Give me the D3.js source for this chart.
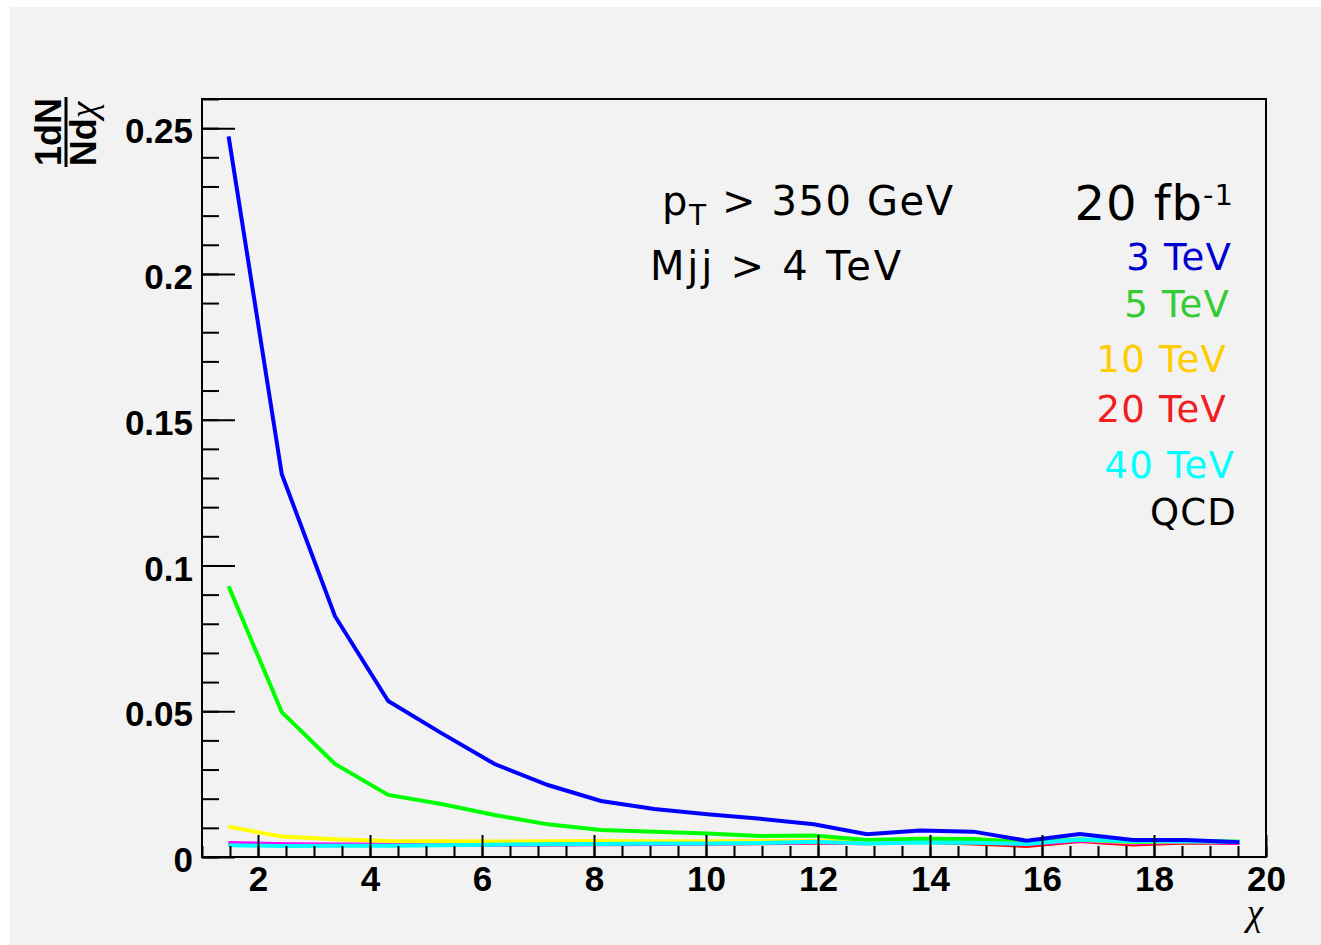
<!DOCTYPE html>
<html>
<head>
<meta charset="utf-8">
<script src="https://cdn.jsdelivr.net/npm/d3@7"></script>
<style>
  body { margin: 0; background: #fff; }
  svg text { white-space: pre; }
</style>
</head>
<body>
<svg id="chart"></svg>
<script>
// chi bin centres: 20 bins of width 0.95 between 1 and 20
const chiBins = [1.475, 2.425, 3.375, 4.325, 5.275, 6.225, 7.175, 8.125, 9.075, 10.025,
                 10.975, 11.925, 12.875, 13.825, 14.775, 15.725, 16.675, 17.625, 18.575, 19.525];

// 1/N dN/dchi per bin
const lambda3 = [0.2472, 0.1313, 0.0826, 0.0535, 0.0425, 0.0319, 0.0247, 0.0192, 0.0165, 0.0147,
                 0.0131, 0.0112, 0.0078, 0.0091, 0.0087, 0.0056, 0.0079, 0.0058, 0.0058, 0.0051];
const lambda5 = [0.0929, 0.0497, 0.0319, 0.0213, 0.0182, 0.0144, 0.0112, 0.0093, 0.0087, 0.0081,
                 0.0072, 0.0074, 0.0058, 0.0063, 0.0062, 0.0050, 0.0060, 0.0052, 0.0055, 0.0052];
const lambda10 = [0.0104, 0.0070, 0.0061, 0.0055, 0.0054, 0.0053, 0.0054, 0.0055, 0.0054, 0.0054,
                  0.0055, 0.0056, 0.0055, 0.0061, 0.0062, 0.0050, 0.0059, 0.0051, 0.0055, 0.0052];
const lambda20 = [0.0045, 0.0042, 0.0040, 0.0041, 0.0042, 0.0043, 0.0044, 0.0045, 0.0046, 0.0046,
                  0.0047, 0.0050, 0.0047, 0.0052, 0.0046, 0.0038, 0.0055, 0.0043, 0.0050, 0.0048];
const lambda40 = [0.0040, 0.0038, 0.0039, 0.0039, 0.0040, 0.0042, 0.0044, 0.0045, 0.0046, 0.0046,
                  0.0048, 0.0052, 0.0046, 0.0050, 0.0049, 0.0045, 0.0060, 0.0055, 0.0054, 0.0052];
const qcd = [0.0048, 0.0044, 0.0043, 0.0043, 0.0042, 0.0042, 0.0043, 0.0044, 0.0045, 0.0046,
             0.0048, 0.0051, 0.0050, 0.0055, 0.0052, 0.0044, 0.0057, 0.0048, 0.0052, 0.0049];

const legendLabels = ['3 TeV', '5 TeV', '10 TeV', '20 TeV', '40 TeV', 'QCD'];

const yTickValues = [0, 0.05, 0.1, 0.15, 0.2, 0.25];
const yTickLabels = ['0', '0.05', '0.1', '0.15', '0.2', '0.25'];
const xTickValues = [2, 4, 6, 8, 10, 12, 14, 16, 18, 20];

// Canvas and frame
const W = 1321, H = 945;
const frame = { left: 202, right: 1266, top: 99, bottom: 857 };

const svg = d3.select('#chart')
  .attr('width', W)
  .attr('height', H);

svg.append('rect')
  .attr('x', 10).attr('y', 7)
  .attr('width', W - 10).attr('height', H - 7)
  .attr('fill', '#f2f2f2');

// Scales
const xScale = d3.scaleLinear().domain([1, 20]).range([frame.left, frame.right]);
const yScale = d3.scaleLinear().domain([0, 0.26]).range([frame.bottom, frame.top]);

// Curves, drawn bottom-up so the 3 TeV one ends on top
const series = [
  { values: lambda20, color: '#ff0000' },
  { values: qcd, color: '#ff00ff' },
  { values: lambda10, color: '#ffff00' },
  { values: lambda5, color: '#00ff00' },
  { values: lambda40, color: '#00ffff' },
  { values: lambda3, color: '#0000ff' }
];

const line = d3.line()
  .x((d, i) => xScale(chiBins[i]))
  .y(d => yScale(d));

svg.append('g')
  .selectAll('path')
  .data(series)
  .enter()
  .append('path')
  .attr('d', d => line(d.values))
  .attr('fill', 'none')
  .attr('stroke', d => d.color)
  .attr('stroke-width', 4)
  .attr('stroke-linejoin', 'miter');

// Axes: ticks point into the frame, minor ticks drawn as a separate pass
const tickFont = '"Liberation Sans", Arial, sans-serif';

const yMinor = d3.range(0, 0.2601, 0.01);
svg.append('g')
  .attr('transform', 'translate(' + frame.left + ',0)')
  .call(d3.axisLeft(yScale).tickValues(yMinor).tickSize(-17).tickFormat(''));

svg.append('g')
  .attr('class', 'y-axis')
  .attr('transform', 'translate(' + frame.left + ',0)')
  .call(d3.axisLeft(yScale)
    .tickValues(yTickValues)
    .tickSize(-33)
    .tickPadding(9)
    .tickFormat((d, i) => yTickLabels[i]));

const xMinor = d3.range(1, 20.01, 0.5);
svg.append('g')
  .attr('transform', 'translate(0,' + frame.bottom + ')')
  .call(d3.axisBottom(xScale).tickValues(xMinor).tickSize(-11).tickFormat(''));

svg.append('g')
  .attr('class', 'x-axis')
  .attr('transform', 'translate(0,' + frame.bottom + ')')
  .call(d3.axisBottom(xScale)
    .tickValues(xTickValues)
    .tickSize(-22)
    .tickPadding(9)
    .tickFormat(d3.format('d')));

svg.selectAll('.domain').remove();
svg.selectAll('.tick line').attr('stroke', '#000').attr('stroke-width', 2);
svg.selectAll('.tick text')
  .attr('fill', '#000')
  .style('font-family', tickFont)
  .style('font-weight', 'bold')
  .style('font-size', '35px');
svg.selectAll('.y-axis .tick text').attr('dy', '0.42em');

// Frame
svg.append('rect')
  .attr('x', frame.left).attr('y', frame.top)
  .attr('width', frame.right - frame.left)
  .attr('height', frame.bottom - frame.top)
  .attr('fill', 'none')
  .attr('stroke', '#000')
  .attr('stroke-width', 2);

// Axis titles
svg.append('text')
  .attr('x', 1255).attr('y', 925)
  .attr('text-anchor', 'middle')
  .style('font-family', '"Liberation Serif", serif')
  .style('font-style', 'italic')
  .style('font-size', '37px')
  .text('\u03C7');

const yTitle = svg.append('g')
  .attr('transform', 'translate(66,167) rotate(-90)')
  .style('font-family', tickFont)
  .style('font-weight', 'bold')
  .style('font-size', '36px');

yTitle.append('text')
  .attr('x', 35).attr('y', -5)
  .attr('text-anchor', 'middle')
  .text('1dN');

yTitle.append('line')
  .attr('x1', 0).attr('x2', 70)
  .attr('y1', 0).attr('y2', 0)
  .attr('stroke', '#000')
  .attr('stroke-width', 3);

const denom = yTitle.append('text')
  .attr('x', 33).attr('y', 30)
  .attr('text-anchor', 'middle');
denom.append('tspan').text('Nd');
denom.append('tspan')
  .style('font-family', '"Liberation Serif", serif')
  .style('font-weight', 'normal')
  .style('font-style', 'italic')
  .style('font-size', '38px')
  .text('\u03C7');

// Cut annotations
const noteFont = '"DejaVu Sans", Verdana, sans-serif';

const pt = svg.append('text')
  .attr('x', 662).attr('y', 215)
  .style('font-family', noteFont)
  .style('font-size', '40px')
  .style('letter-spacing', '1.6px');
pt.append('tspan').text('p');
pt.append('tspan').attr('dy', 10).style('font-size', '28px').text('T');
pt.append('tspan').attr('dy', -10).text(' > 350 GeV');

svg.append('text')
  .attr('x', 650).attr('y', 280)
  .attr('textLength', 251)
  .attr('lengthAdjust', 'spacing')
  .style('font-family', noteFont)
  .style('font-size', '40px')
  .text('Mjj > 4 TeV');

const lumi = svg.append('text')
  .attr('x', 1234).attr('y', 220)
  .attr('text-anchor', 'end')
  .style('font-family', noteFont)
  .style('font-size', '48px')
  .style('letter-spacing', '1px');
lumi.append('tspan').text('20 fb');
lumi.append('tspan').attr('dy', -15).style('font-size', '29px').text('-1');

// Legend entries
const legendColors = ['#0000d0', '#33cc33', '#ffcc00', '#f01e1e', '#00ffff', '#000000'];
const legendPos = [[1232, 270], [1230, 317], [1227, 372], [1227, 422], [1235, 478], [1237, 525]];

svg.append('g')
  .selectAll('text')
  .data(legendLabels)
  .enter()
  .append('text')
  .attr('x', (d, i) => legendPos[i][0])
  .attr('y', (d, i) => legendPos[i][1])
  .attr('text-anchor', 'end')
  .attr('fill', (d, i) => legendColors[i])
  .style('font-family', noteFont)
  .style('font-size', '37px')
  .style('letter-spacing', '1.2px')
  .text(d => d);
</script>
</body>
</html>
